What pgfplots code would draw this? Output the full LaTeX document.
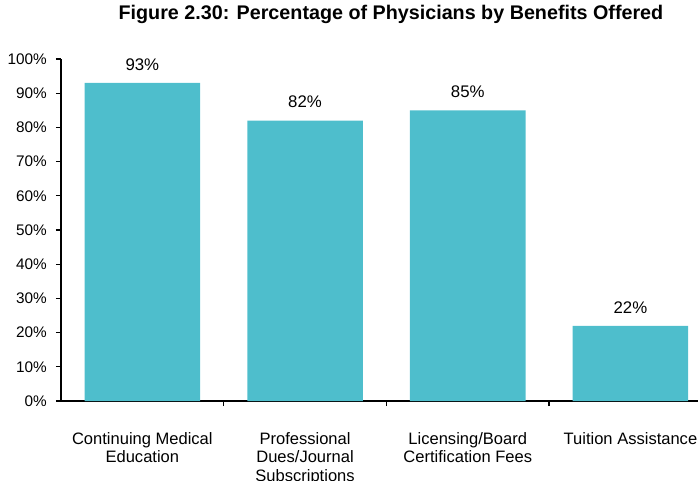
\documentclass[border=0pt]{standalone}
\usepackage{fontspec}
\setmainfont{Liberation Sans}
\usepackage{pgfplots}
\pgfplotsset{compat=1.18}
\definecolor{barteal}{RGB}{78,190,204}

\begin{document}
\begin{tikzpicture}
% canvas of the reference: 698x480 px at 0.75pt per px, axis corner at (61,401) px
\path[use as bounding box] (-45.75pt,-59.25pt) rectangle (477.75pt,300.75pt);
\clip (-45.75pt,-59.25pt) rectangle (477.75pt,300.75pt);
\begin{axis}[
  at={(0pt,0pt)}, anchor=south west,
  scale only axis, width=488.1pt, height=256.5pt,
  xmin=-0.5, xmax=3.5, ymin=0, ymax=100,
  clip=false,
  axis x line*=bottom, axis y line*=left,
  axis line style={line width=1.4pt, black},
  tick align=outside,
  major tick length=3.75pt, minor tick length=3.75pt,
  ytick={0,10,...,100},
  yticklabel={\pgfmathprintnumber{\tick}\%},
  yticklabel style={font=\fontsize{11.5}{13}\selectfont, anchor=east, inner sep=0pt, xshift=-6.75pt},
  ytick style={line width=1pt, black},
  xtick={0,1,2,3},
  xticklabels={Continuing Medical\\Education, Professional\\Dues/Journal\\Subscriptions, Licensing/Board\\Certification Fees, Tuition Assistance},
  xticklabel style={font=\fontsize{12.4}{14}\selectfont, align=center, anchor=north, inner sep=0pt, yshift=-19.5pt},
  major x tick style={draw=none},
  minor xtick={0.5,1.5,2.5},
  minor x tick style={line width=1pt, black},
  /pgf/number format/assume math mode=true,
  title={Figure 2.30: Percentage of Physicians by Benefits Offered},
  title style={font=\bfseries\fontsize{14.8}{17}\selectfont, anchor=base, inner sep=0pt, at={(axis description cs:0.507,1)}, yshift=24pt},
  ybar, bar width=0.71,
  nodes near coords={\pgfmathprintnumber{\pgfplotspointmeta}\%},
  every node near coord/.append style={font=\fontsize{12.6}{15}\selectfont, anchor=base, inner sep=0pt, yshift=9.5pt},
]
\addplot[draw=none, fill=barteal] coordinates {(0,93) (1,82) (2,85) (3,22)};
\end{axis}
\end{tikzpicture}
\end{document}
